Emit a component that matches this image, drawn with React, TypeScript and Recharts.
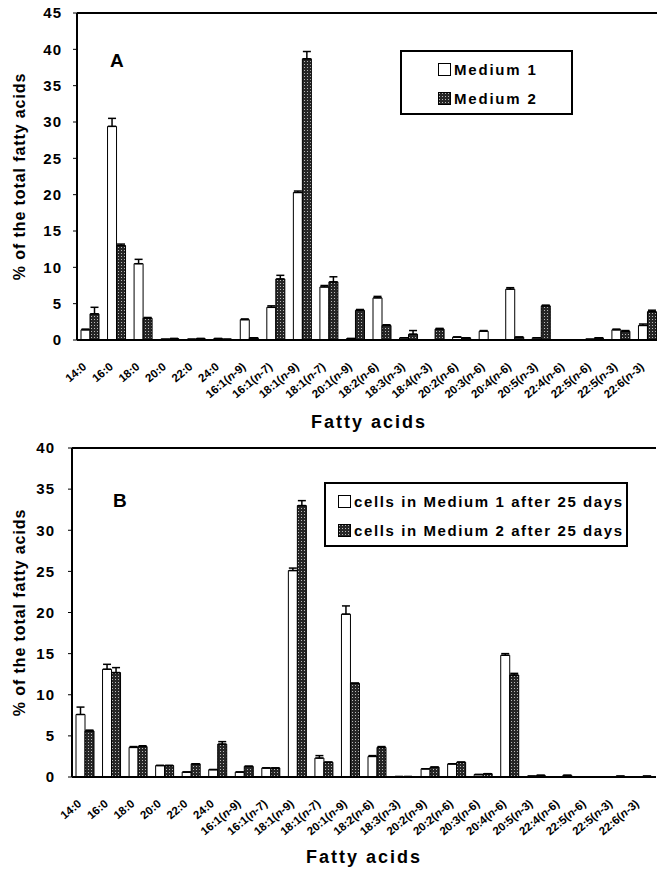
import React from 'react';
import { BarChart, Bar, XAxis, YAxis, ErrorBar, ReferenceLine, Legend } from 'recharts';

const FONT = '"Liberation Sans", Arial, Helvetica, sans-serif';

// ---------- Panel A ----------
const catsA = ['14:0', '16:0', '18:0', '20:0', '22:0', '24:0', '16:1(n-9)', '16:1(n-7)', '18:1(n-9)', '18:1(n-7)', '20:1(n-9)', '18:2(n-6)', '18:3(n-3)', '18:4(n-3)', '20:2(n-6)', '20:3(n-6)', '20:4(n-6)', '20:5(n-3)', '22:4(n-6)', '22:5(n-6)', '22:5(n-3)', '22:6(n-3)'];
const medium1A = [1.4, 29.4, 10.5, 0.1, 0.1, 0.2, 2.8, 4.5, 20.3, 7.3, 0.2, 5.8, 0.3, 0, 0.4, 1.2, 7.0, 0.3, 0, 0.1, 1.4, 2.0];
const medium2A = [3.6, 13.0, 3.0, 0.2, 0.2, 0.1, 0.3, 8.4, 38.7, 8.0, 4.1, 2.0, 0.8, 1.5, 0.3, 0, 0.4, 4.7, 0, 0.3, 1.2, 3.9];
const err1A = [0.1, 1.1, 0.6, 0, 0, 0, 0.1, 0.2, 0.2, 0.2, 0, 0.2, 0, 0, 0, 0.1, 0.2, 0, 0, 0, 0.1, 0.2];
const err2A = [0.9, 0.2, 0.1, 0, 0, 0, 0, 0.5, 1.0, 0.7, 0.1, 0.1, 0.5, 0.1, 0, 0, 0, 0.1, 0, 0, 0.1, 0.2];
const ticksA = [0, 5, 10, 15, 20, 25, 30, 35, 40, 45];
const legendA = ['Medium 1', 'Medium 2'];

// ---------- Panel B ----------
const catsB = ['14:0', '16:0', '18:0', '20:0', '22:0', '24:0', '16:1(n-9)', '16:1(n-7)', '18:1(n-9)', '18:1(n-7)', '20:1(n-9)', '18:2(n-6)', '18:3(n-3)', '20:2(n-9)', '20:2(n-6)', '20:3(n-6)', '20:4(n-6)', '20:5(n-3)', '22:4(n-6)', '22:5(n-6)', '22:5(n-3)', '22:6(n-3)'];
const medium1B = [7.6, 13.1, 3.6, 1.4, 0.6, 0.9, 0.6, 1.1, 25.1, 2.3, 19.8, 2.5, 0.05, 1.0, 1.6, 0.3, 14.8, 0.1, 0, 0, 0, 0];
const medium2B = [5.6, 12.7, 3.7, 1.4, 1.6, 4.0, 1.3, 1.1, 33.0, 1.8, 11.4, 3.6, 0.05, 1.2, 1.8, 0.4, 12.4, 0.2, 0.2, 0, 0.1, 0.1];
const err1B = [0.9, 0.6, 0.1, 0, 0, 0, 0, 0, 0.3, 0.3, 1.0, 0.1, 0, 0, 0, 0, 0.2, 0, 0, 0, 0, 0];
const err2B = [0.1, 0.6, 0.1, 0, 0, 0.3, 0, 0, 0.6, 0, 0, 0.1, 0, 0, 0, 0, 0.2, 0, 0, 0, 0, 0];
const ticksB = [0, 5, 10, 15, 20, 25, 30, 35, 40];
const legendB = ['cells in Medium 1 after 25 days', 'cells in Medium 2 after 25 days'];

const build = (cats: string[], a: number[], b: number[], ea: number[], eb: number[]) =>
  cats.map((name, i) => ({ name, m1: a[i], m2: b[i], e1: [0, ea[i]], e2: [0, eb[i]] }));

const dataA = build(catsA, medium1A, medium2A, err1A, err2A);
const dataB = build(catsB, medium1B, medium2B, err1B, err2B);

const DotPattern = ({ id }: { id: string }) => (
  <pattern id={id} width={3} height={3} patternUnits="userSpaceOnUse">
    <rect x={0} y={0} width={3} height={3} fill="#262626" />
    <rect x={1} y={1} width={1} height={1} fill="#b8b8b8" />
  </pattern>
);

const XTick = (props: any) => {
  const { x, y, payload } = props;
  const s: string = payload.value;
  const idx = s.indexOf('(n');
  const tx = x - 3;
  const ty = y + 20;
  return (
    <text x={tx} y={ty} transform={`rotate(-40, ${tx}, ${ty})`} textAnchor="end" fontSize={11.5} fontWeight="bold" fontFamily={FONT} fill="#000">
      {idx < 0 ? s : (
        <>
          {s.slice(0, idx + 1)}
          <tspan fontStyle="italic">n</tspan>
          {s.slice(idx + 2)}
        </>
      )}
    </text>
  );
};

const makeYLabel = (cx: number, panel: string, px: number, py: number) => (props: any) => {
  const vb = props.viewBox || {};
  const cy = vb.y + vb.height / 2;
  return (
    <g>
      <text x={cx} y={cy} transform={`rotate(-90, ${cx}, ${cy})`} textAnchor="middle" dominantBaseline="central" fontSize={16} fontWeight="bold" fontFamily={FONT} fill="#000" letterSpacing={0.9}>
        % of the total fatty acids
      </text>
      <text x={px} y={py} fontSize={19} fontWeight="bold" fontFamily={FONT} fill="#000">{panel}</text>
    </g>
  );
};

const makeXLabel = (dy: number) => (props: any) => {
  const vb = props.viewBox || {};
  return (
    <text x={vb.x + vb.width / 2} y={vb.y + dy} textAnchor="middle" fontSize={18} fontWeight="bold" fontFamily={FONT} fill="#000" letterSpacing={2}>
      Fatty acids
    </text>
  );
};

const makeLegend = (labels: string[], width: number, swLeft: number, fontSize: number, ls: number, pid: string) => () => (
  <div style={{ width, height: 61, border: '2px solid #000', background: '#fff', boxSizing: 'content-box', fontFamily: FONT, position: 'relative' }}>
    {labels.map((t, i) => (
      <div key={t} style={{ position: 'absolute', left: swLeft, top: i === 0 ? 6 : 35, height: 22, display: 'flex', alignItems: 'center', whiteSpace: 'nowrap' }}>
        <svg width={13} height={13} style={{ marginRight: 3 }}>
          <defs><DotPattern id={pid} /></defs>
          <rect x={0.5} y={0.5} width={12} height={12} fill={i === 0 ? '#fff' : `url(#${pid})`} stroke="#000" strokeWidth={1} />
        </svg>
        <span style={{ fontSize, fontWeight: 'bold', letterSpacing: ls, color: '#000' }}>{t}</span>
      </div>
    ))}
  </div>
);

const yTick = { fontSize: 15, fontWeight: 'bold', fill: '#000', fontFamily: FONT, letterSpacing: 1 };

const Panel = (p: any) => (
  <BarChart width={p.width} height={p.height} data={p.data} margin={{ top: 13, right: p.right, bottom: 0, left: 0 }} barGap={0} barSize={9}>
    <defs><DotPattern id={p.pid} /></defs>
    <XAxis dataKey="name" interval={0} height={p.xh} tick={<XTick />} tickLine={false} axisLine={{ stroke: '#000', strokeWidth: 2 }} label={makeXLabel(p.xdy)} />
    <YAxis width={p.yw} domain={[0, p.max]} ticks={p.ticks} interval={0} allowDataOverflow tick={yTick} tickSize={4} tickMargin={p.tm} tickLine={{ stroke: '#000' }} axisLine={{ stroke: '#000', strokeWidth: 2 }} label={makeYLabel(19, p.panel, p.px, p.py)} />
    <ReferenceLine y={p.max} stroke="#000" strokeWidth={2} ifOverflow="visible" />
    <Legend layout="vertical" align="center" verticalAlign="middle" content={p.legend} wrapperStyle={{ left: p.lx, top: p.ly, width: 'auto' }} />
    <Bar dataKey="m1" fill="#fff" stroke="#000" strokeWidth={1} isAnimationActive={false}>
      <ErrorBar dataKey="e1" direction="y" width={4} stroke="#000" strokeWidth={1.5} isAnimationActive={false} />
    </Bar>
    <Bar dataKey="m2" fill={`url(#${p.pid})`} stroke="#000" strokeWidth={1} isAnimationActive={false}>
      <ErrorBar dataKey="e2" direction="y" width={4} stroke="#000" strokeWidth={1.5} isAnimationActive={false} />
    </Bar>
  </BarChart>
);

export default function App() {
  return (
    <div style={{ position: 'absolute', left: 0, top: 0, width: 657, height: 869, overflow: 'hidden', background: '#fff' }}>
      <div style={{ position: 'absolute', left: 0, top: 0 }}>
        <Panel width={665} height={435} data={dataA} right={4} pid="dotsA" xh={95} xdy={88} yw={77} max={45} ticks={ticksA} tm={11}
          panel="A" px={110} py={67} legend={makeLegend(legendA, 169, 36, 15, 1.8, 'swA')} lx={400} ly={50} />
      </div>
      <div style={{ position: 'absolute', left: 0, top: 435 }}>
        <Panel width={660} height={434} data={dataB} right={4} pid="dotsB" xh={92} xdy={86} yw={72} max={40} ticks={ticksB} tm={13}
          panel="B" px={113} py={72} legend={makeLegend(legendB, 300, 12, 15, 1.6, 'swB')} lx={324} ly={47} />
      </div>
    </div>
  );
}
